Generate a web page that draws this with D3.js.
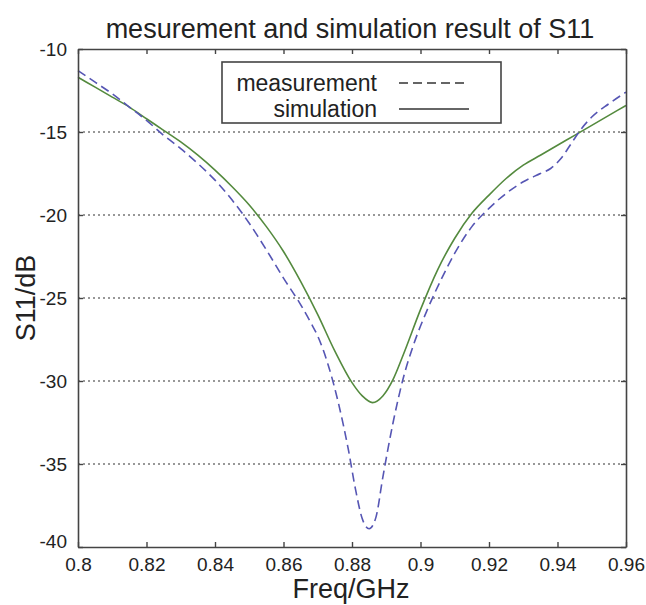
<!DOCTYPE html>
<html>
<head>
<meta charset="utf-8">
<script src="https://cdn.jsdelivr.net/npm/d3@7"></script>
<style>
  body { margin: 0; background: #fff; }
  svg text { font-family: "Liberation Sans", Arial, sans-serif; fill: #222; }
</style>
</head>
<body>
<div id="chart"></div>
<script>
// frequency (GHz) / S11 (dB)
var simFreq = [0.800, 0.805, 0.810, 0.815, 0.820, 0.825, 0.830, 0.835, 0.840, 0.845,
               0.850, 0.855, 0.860, 0.865, 0.870, 0.875, 0.880, 0.883, 0.886, 0.889,
               0.892, 0.895, 0.900, 0.905, 0.910, 0.915, 0.920, 0.925, 0.930, 0.935,
               0.940, 0.945, 0.950, 0.955, 0.960];
var simS11 = [-11.7, -12.3, -12.9, -13.5, -14.2, -14.9, -15.6, -16.4, -17.3, -18.3,
              -19.4, -20.7, -22.2, -24.0, -26.0, -28.2, -30.1, -30.9, -31.3, -30.9,
              -29.9, -28.4, -25.7, -23.3, -21.4, -19.9, -18.8, -17.8, -17.0, -16.4,
              -15.8, -15.2, -14.6, -14.0, -13.4];

var measFreq = [0.800, 0.805, 0.810, 0.815, 0.820, 0.825, 0.830, 0.835, 0.840, 0.845,
                0.850, 0.855, 0.860, 0.865, 0.868, 0.870, 0.873, 0.876, 0.879, 0.881,
                0.883, 0.885, 0.887, 0.889, 0.892, 0.895, 0.898, 0.902, 0.906, 0.910,
                0.915, 0.920, 0.925, 0.930, 0.935, 0.938, 0.941, 0.944, 0.947, 0.950,
                0.955, 0.960];
var measS11 = [-11.3, -12.0, -12.7, -13.5, -14.3, -15.2, -16.0, -16.9, -17.9, -19.1,
               -20.5, -22.1, -23.8, -25.4, -26.5, -27.3, -29.0, -31.3, -34.2, -36.5,
               -38.3, -38.9, -38.2, -35.8, -32.5, -29.8, -27.8, -25.7, -23.9, -22.3,
               -20.7, -19.6, -18.7, -18.0, -17.5, -17.2, -16.6, -15.7, -14.8, -14.1,
               -13.3, -12.6];

var xTicks = [0.8, 0.82, 0.84, 0.86, 0.88, 0.9, 0.92, 0.94, 0.96];
var yTicks = [-10, -15, -20, -25, -30, -35, -40];
var seriesNames = ["measurement", "simulation"];

(function(){
    var W = 646, H = 605;
    var pl = 78, pr = 626, pt = 49, pb = 547;

    var svg = d3.select("#chart").append("svg").attr("width", W).attr("height", H);

    var x = d3.scaleLinear().domain([0.8, 0.96]).range([pl, pr]);
    var y = d3.scaleLinear().domain([-40, -10]).range([pb, pt]);

    // dotted horizontal grid
    svg.append("g").selectAll("line")
        .data(yTicks.filter(function(d){ return d > -40 && d < -10; }))
        .enter().append("line")
        .attr("x1", pl).attr("x2", pr)
        .attr("y1", function(d){ return y(d); }).attr("y2", function(d){ return y(d); })
        .attr("stroke", "#777").attr("stroke-width", 1.3)
        .attr("stroke-dasharray", "2,3");

    // curves
    var line = d3.line().curve(d3.curveMonotoneX)
        .x(function(d){ return x(d[0]); }).y(function(d){ return y(d[1]); });

    svg.append("path")
        .datum(simFreq.map(function(f, i){ return [f, simS11[i]]; }))
        .attr("d", line)
        .attr("fill", "none").attr("stroke", "#548a3e").attr("stroke-width", 1.6);

    svg.append("path")
        .datum(measFreq.map(function(f, i){ return [f, measS11[i]]; }))
        .attr("d", line)
        .attr("fill", "none").attr("stroke", "#5656b4").attr("stroke-width", 1.6)
        .attr("stroke-dasharray", "9,5");

    function styleAxis(g){
        g.select(".domain").attr("stroke", "#444").attr("stroke-width", 1.6);
        g.selectAll(".tick line").attr("stroke", "#444").attr("stroke-width", 1.4);
        g.selectAll(".tick text").attr("font-size", 19).attr("fill", "#333")
            .style("font-family", "'Liberation Sans', Arial, sans-serif");
    }

    // plain hyphen minus like the original, not the unicode one
    var fmt = function(d){ return String(+d.toFixed(2)); };

    // axes: ticks inside on all four sides
    var tickLen = 5;
    svg.append("g").attr("transform", "translate(0," + pb + ")")
        .call(d3.axisBottom(x).tickValues(xTicks).tickSizeInner(-tickLen).tickSizeOuter(0).tickPadding(11)
            .tickFormat(fmt))
        .call(styleAxis);
    svg.append("g").attr("transform", "translate(0," + pt + ")")
        .call(d3.axisTop(x).tickValues(xTicks).tickSizeInner(-tickLen).tickSizeOuter(0).tickFormat(""))
        .call(styleAxis);
    svg.append("g").attr("transform", "translate(" + pl + ",0)")
        .call(d3.axisLeft(y).tickValues(yTicks).tickSizeInner(-tickLen).tickSizeOuter(0).tickPadding(11)
            .tickFormat(fmt))
        .call(styleAxis);
    svg.append("g").attr("transform", "translate(" + pr + ",0)")
        .call(d3.axisRight(y).tickValues(yTicks).tickSizeInner(-tickLen).tickSizeOuter(0).tickFormat(""))
        .call(styleAxis);

    // the -40 label sits a little higher, as in the original
    svg.selectAll("g.tick text").filter(function(d){ return d === -40; }).attr("dy", "0.05em");

    // titles
    svg.append("text").attr("x", 350).attr("y", 38).attr("text-anchor", "middle")
        .attr("font-size", 27).text("mesurement and simulation result of S11");
    svg.append("text").attr("x", 351).attr("y", 598).attr("text-anchor", "middle")
        .attr("font-size", 27).text("Freq/GHz");
    svg.append("text").attr("transform", "translate(35," + ((pt + pb) / 2) + ") rotate(-90)")
        .attr("text-anchor", "middle").attr("font-size", 27).text("S11/dB");

    // legend
    var lg = svg.append("g");
    lg.append("rect").attr("x", 222).attr("y", 62).attr("width", 279).attr("height", 61)
        .attr("fill", "#fff").attr("stroke", "#444").attr("stroke-width", 1.6);
    lg.selectAll("text").data(seriesNames).enter().append("text")
        .attr("x", 377).attr("y", function(d, i){ return 91 + i * 26; })
        .attr("text-anchor", "end").attr("font-size", 23).text(function(d){ return d; });
    lg.append("line").attr("x1", 399).attr("x2", 469).attr("y1", 83).attr("y2", 83)
        .attr("stroke", "#333").attr("stroke-width", 1.6).attr("stroke-dasharray", "9,5");
    lg.append("line").attr("x1", 399).attr("x2", 469).attr("y1", 109).attr("y2", 109)
        .attr("stroke", "#333").attr("stroke-width", 1.6);
}());
</script>
</body>
</html>
